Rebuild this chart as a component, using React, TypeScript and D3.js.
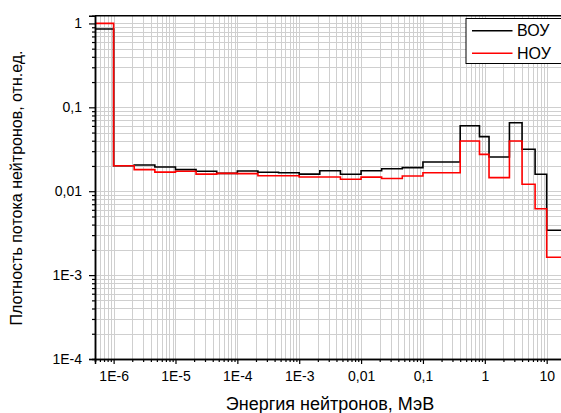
import React, { useEffect, useRef } from "react";
import * as d3 from "d3";

// group boundaries, MeV (last one only closes the final step)
const binEdges = [
  5e-7, 1e-6, 2.15e-6, 4.64e-6, 1e-5, 2.15e-5, 4.64e-5, 1e-4, 2.15e-4, 4.64e-4,
  1e-3, 2.15e-3, 4.64e-3, 0.01, 0.0215, 0.0464, 0.1, 0.4, 0.82, 1.17, 2.5, 4, 6.5, 10, 20,
];
const heuFlux = [
  0.857, 0.0201, 0.0205, 0.0194, 0.0181, 0.0173, 0.0163, 0.0174, 0.0168, 0.0166,
  0.016, 0.0175, 0.0159, 0.0175, 0.0185, 0.0191, 0.0223, 0.0604, 0.0447, 0.0256,
  0.0656, 0.0316, 0.0159, 0.00342,
];
const leuFlux = [
  1.0, 0.0201, 0.0181, 0.0169, 0.0173, 0.016, 0.0163, 0.0162, 0.0153, 0.0153,
  0.0148, 0.0148, 0.0139, 0.0147, 0.0142, 0.0152, 0.0166, 0.0397, 0.0275, 0.0145,
  0.0397, 0.0121, 0.00618, 0.00163,
];
const seriesNames = ["ВОУ", "НОУ"];
const seriesColors = ["#000000", "#ff0000"];

const xTicks = [1e-6, 1e-5, 1e-4, 1e-3, 0.01, 0.1, 1, 10];
const xTickLabels = ["1E-6", "1E-5", "1E-4", "1E-3", "0,01", "0,1", "1", "10"];
const yTicks = [1e-4, 1e-3, 0.01, 0.1, 1];
const yTickLabels = ["1E-4", "1E-3", "0,01", "0,1", "1"];

const xTitle = "Энергия нейтронов, МэВ";
const yTitle = "Плотность потока нейтронов, отн.ед.";

const W = 561;
const H = 413;
const FONT = "'Liberation Sans', Arial, sans-serif";

// 1..9 multiples of each decade inside the domain
function minorTicks(lo: number, hi: number) {
  const out: number[] = [];
  for (let e = Math.floor(Math.log10(lo)); e <= Math.ceil(Math.log10(hi)); e++) {
    for (let m = 1; m < 10; m++) {
      const v = m * Math.pow(10, e);
      if (v >= lo * 0.999 && v <= hi * 1.001) out.push(v);
    }
  }
  return out;
}

export default function App() {
  const ref = useRef<SVGSVGElement>(null);

  useEffect(() => {
    const svg = d3.select(ref.current);
    svg.selectAll("*").remove();

    const left = 95, right = 565.3, top = 15.7, bottom = 359;
    const x = d3.scaleLog().domain([5e-7, 20]).range([left, right]);
    const y = d3.scaleLog().domain([1e-4, 1.236]).range([bottom, top]);

    svg.append("rect").attr("width", W).attr("height", H).attr("fill", "#fff");

    // grid
    const grid = svg.append("g").attr("stroke", "#cfcfcf").attr("stroke-width", 1);
    minorTicks(5e-7, 20).forEach((v) => {
      const px = Math.round(x(v)) + 0.5;
      grid.append("line").attr("x1", px).attr("x2", px).attr("y1", top).attr("y2", bottom);
    });
    minorTicks(1e-4, 1.236).forEach((v) => {
      const py = Math.round(y(v)) + 0.5;
      grid.append("line").attr("x1", left).attr("x2", right).attr("y1", py).attr("y2", py);
    });

    // step lines
    const line = d3
      .line<number>()
      .x((_, i) => x(binEdges[i]))
      .y((d) => y(d))
      .curve(d3.curveStepAfter);
    [heuFlux, leuFlux].forEach((vals, k) => {
      svg.append("path")
        .datum([...vals, vals[vals.length - 1]])
        .attr("d", line)
        .attr("fill", "none")
        .attr("stroke", seriesColors[k])
        .attr("stroke-width", 1.6);
    });

    // frame
    svg.append("line").attr("x1", left).attr("x2", right).attr("y1", top).attr("y2", top)
      .attr("stroke", "#000").attr("stroke-width", 1.5);

    // axes
    const xMajor = svg.append("g").attr("transform", `translate(0,${bottom})`)
      .call(d3.axisBottom(x).tickValues(xTicks).tickSize(5).tickPadding(7)
        .tickFormat((_, i) => xTickLabels[i]));
    const xMinor = svg.append("g").attr("transform", `translate(0,${bottom})`)
      .call(d3.axisBottom(x).tickValues(minorTicks(5e-7, 20).filter((v) => !xTicks.includes(v)))
        .tickSize(3).tickFormat(() => ""));
    const yMajor = svg.append("g").attr("transform", `translate(${left},0)`)
      .call(d3.axisLeft(y).tickValues(yTicks).tickSize(6).tickPadding(7)
        .tickFormat((_, i) => yTickLabels[i]));
    const yMinor = svg.append("g").attr("transform", `translate(${left},0)`)
      .call(d3.axisLeft(y).tickValues(minorTicks(1e-4, 1.236).filter((v) => !yTicks.includes(v)))
        .tickSize(3).tickFormat(() => ""));

    [xMajor, xMinor, yMajor, yMinor].forEach((g) => {
      g.select(".domain").attr("stroke", "#000").attr("stroke-width", 1.5);
      g.selectAll(".tick line").attr("stroke", "#000").attr("stroke-width", 1.2);
      g.selectAll("text").attr("font-family", FONT).attr("font-size", 14).attr("fill", "#000");
    });

    // titles
    svg.append("text").attr("x", 330).attr("y", 409.5).attr("text-anchor", "middle")
      .attr("font-family", FONT).attr("font-size", 18).text(xTitle);
    svg.append("text").attr("transform", "rotate(-90)").attr("x", -188).attr("y", 22)
      .attr("text-anchor", "middle").attr("font-family", FONT).attr("font-size", 16).text(yTitle);

    // legend
    const lg = svg.append("g");
    lg.append("rect").attr("x", 466).attr("y", 18.5).attr("width", 120).attr("height", 45)
      .attr("fill", "#fff").attr("stroke", "#000").attr("stroke-width", 1);
    seriesNames.forEach((name, k) => {
      const cy = 30.7 + k * 22.6;
      lg.append("line").attr("x1", 472).attr("x2", 512.5).attr("y1", cy).attr("y2", cy)
        .attr("stroke", seriesColors[k]).attr("stroke-width", 1.6);
      lg.append("text").attr("x", 517).attr("y", cy).attr("dy", "0.36em")
        .attr("font-family", FONT).attr("font-size", 16).text(name);
    });
  }, []);

  return (
    <svg
      ref={ref}
      width={W}
      height={H}
      style={{ position: "absolute", left: 0, top: 0, display: "block" }}
    />
  );
}
